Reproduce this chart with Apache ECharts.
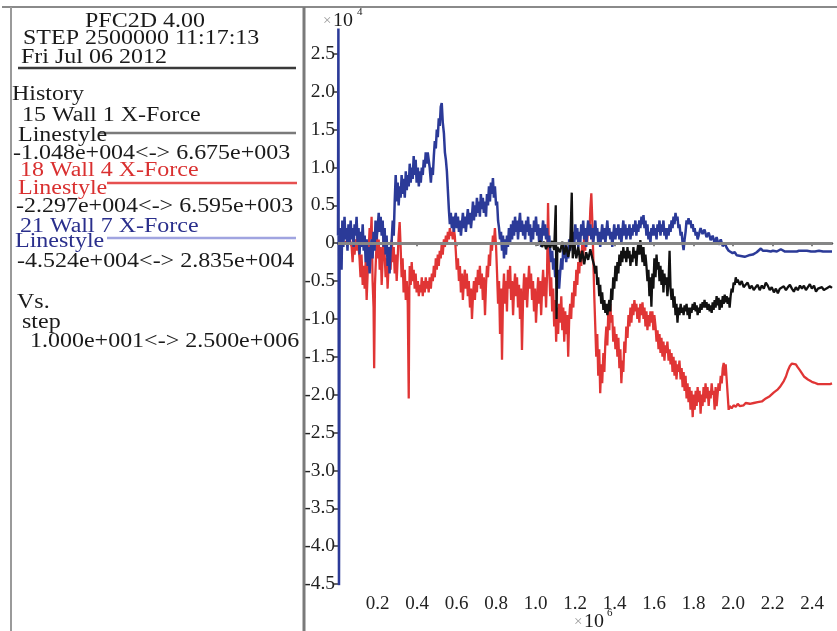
<!DOCTYPE html>
<html><head><meta charset="utf-8">
<script src="https://cdn.jsdelivr.net/npm/echarts@6/dist/echarts.min.js"></script>
<style>html,body{margin:0;padding:0;background:#fff}#c{width:837px;height:631px}</style>
</head><body><div id="c"></div><script>
// step in units of 10^6, force in units of 10^4
const wall1 = [[0.000,0.00],[1.000,0.00],[1.013,-0.02],[1.023,0.03],[1.033,-0.05],[1.043,0.02],[1.053,-0.08],[1.063,0.00],[1.074,-0.06],[1.084,0.03],[1.094,-0.09],[1.102,0.50],[1.106,-1.00],[1.110,-0.05],[1.124,-0.12],[1.135,0.02],[1.145,-0.15],[1.155,-0.03],[1.165,-0.18],[1.175,-0.05],[1.183,0.6675],[1.188,-0.20],[1.196,0.00],[1.206,-0.20],[1.216,-0.05],[1.226,-0.25],[1.236,-0.10],[1.246,-0.28],[1.256,-0.12],[1.266,-0.22],[1.277,-0.08],[1.287,-0.20],[1.297,-0.30],
[1.302,-0.40],[1.307,-0.30],[1.312,-0.55],[1.317,-0.45],[1.322,-0.70],[1.327,-0.55],[1.332,-0.80],[1.337,-0.65],[1.343,-0.88],[1.348,-0.75],[1.353,-0.92],[1.358,-0.80],[1.363,-0.95],[1.368,-0.85],[1.373,-0.75],[1.378,-0.90],[1.383,-0.60],[1.388,-0.75],[1.393,-0.45],[1.398,-0.60],[1.404,-0.30],[1.409,-0.50],[1.414,-0.25],[1.419,-0.40],[1.424,-0.15],[1.429,-0.30],[1.434,-0.10],[1.439,-0.25],[1.444,-0.05],[1.449,-0.20],[1.454,-0.10],[1.459,-0.25],[1.465,-0.05],[1.470,-0.20],[1.475,-0.10],[1.480,-0.30],[1.485,-0.15],[1.490,-0.25],[1.495,-0.05],[1.500,-0.20],[1.505,-0.10],[1.510,-0.30],[1.515,-0.10],[1.520,0.00],[1.525,-0.15],[1.530,0.04],[1.536,-0.10],[1.541,-0.25],[1.546,-0.05],[1.551,-0.30],[1.556,-0.15],[1.561,-0.30],[1.566,-0.50],[1.571,-0.35],[1.576,-0.70],[1.581,-0.45],[1.586,-0.84],[1.591,-0.40],[1.596,-0.60],[1.601,-0.20],[1.607,-0.45],[1.612,-0.15],[1.617,-0.35],[1.622,-0.25],[1.627,-0.50],[1.632,-0.30],[1.637,-0.55],[1.642,-0.35],[1.647,-0.65],[1.652,-0.40],[1.657,-0.55],[1.662,-0.45],[1.667,-0.70],[1.673,-0.50],[1.678,-0.10],[1.683,-0.60],[1.688,-0.75],[1.693,-0.60],[1.698,-0.85],[1.703,-0.70],[1.708,-0.95],[1.713,-0.80],[1.718,-1.048],[1.723,-0.85],[1.728,-0.95],[1.734,-0.80],[1.739,-0.92],[1.744,-0.85],[1.749,-0.95],[1.754,-0.82],[1.759,-0.90],[1.764,-0.80],[1.769,-0.95],[1.774,-0.85],[1.779,-1.00],[1.784,-0.85],[1.789,-0.92],[1.795,-0.80],[1.800,-0.88],[1.805,-0.78],[1.810,-0.90],[1.815,-0.82],[1.820,-0.95],[1.825,-0.85],[1.830,-0.92],[1.835,-0.80],[1.840,-0.88],[1.845,-0.78],[1.850,-0.85],[1.855,-0.75],[1.860,-0.85],[1.865,-0.78],[1.870,-0.88],[1.876,-0.80],[1.881,-0.90],[1.886,-0.82],[1.891,-0.92],[1.896,-0.78],[1.901,-0.88],[1.906,-0.75],[1.911,-0.85],[1.916,-0.70],[1.921,-0.82],[1.926,-0.72],[1.931,-0.88],[1.937,-0.75],[1.942,-0.85],[1.947,-0.70],[1.952,-0.80],[1.957,-0.68],[1.962,-0.78],[1.967,-0.70],[1.972,-0.80],[1.977,-0.72],[1.982,-0.85],[1.987,-0.70],[1.992,-0.60],[1.997,-0.65],[2.002,-0.52],[2.008,-0.55],[2.013,-0.45],[2.018,-0.52],[2.023,-0.48],[2.033,-0.55],[2.043,-0.50],[2.053,-0.58],[2.063,-0.55],[2.073,-0.52],[2.084,-0.60],[2.094,-0.56],[2.104,-0.62],[2.114,-0.58],[2.124,-0.55],[2.134,-0.62],[2.145,-0.56],[2.155,-0.60],[2.165,-0.52],[2.175,-0.56],[2.185,-0.62],[2.195,-0.58],[2.206,-0.65],[2.216,-0.60],[2.226,-0.66],[2.236,-0.60],[2.246,-0.62],[2.256,-0.57],[2.267,-0.62],[2.277,-0.58],[2.287,-0.55],[2.297,-0.60],[2.307,-0.64],[2.317,-0.58],[2.327,-0.62],[2.338,-0.56],[2.348,-0.60],[2.358,-0.56],[2.368,-0.62],[2.378,-0.58],[2.388,-0.54],[2.398,-0.60],[2.409,-0.56],[2.419,-0.64],[2.429,-0.60],[2.439,-0.62],[2.449,-0.58],[2.459,-0.62],[2.470,-0.60],[2.480,-0.58],[2.490,-0.57],[2.500,-0.59]];

const wall4 = [[0.000,0.00],[0.030,0.00],[0.060,0.05],[0.069,-0.05],[0.074,-0.25],[0.079,0.00],[0.084,-0.15],[0.089,0.05],[0.094,-0.10],[0.099,0.10],[0.104,-0.05],[0.109,-0.20],[0.114,-0.45],[0.119,-0.15],[0.125,-0.55],[0.130,-0.30],[0.135,-0.60],[0.140,-0.25],[0.145,-0.75],[0.150,-0.40],[0.155,-0.10],[0.160,0.20],[0.165,0.05],[0.170,0.35],[0.175,-0.50],[0.180,-0.85],[0.183,-1.65],[0.187,-0.55],[0.192,-0.20],[0.197,0.10],[0.201,-0.20],[0.206,0.05],
[0.211,-0.35],[0.216,-0.05],[0.221,-0.55],[0.226,-0.20],[0.231,0.10],[0.236,-0.15],[0.241,-0.45],[0.246,-0.20],[0.251,-0.60],[0.256,-0.30],[0.261,-0.05],[0.266,-0.35],[0.272,0.05],[0.277,-0.25],[0.282,-0.05],[0.287,-0.40],[0.292,-0.15],[0.297,-0.50],[0.302,-0.20],[0.307,0.10],[0.312,0.28],[0.317,-0.05],[0.322,-0.45],[0.327,-0.20],[0.332,-0.65],[0.338,-0.35],[0.343,-0.75],[0.348,-0.50],[0.353,-0.80],[0.358,-2.05],[0.361,-0.60],[0.363,-0.30],
[0.368,-0.55],[0.373,-0.25],[0.378,-0.50],[0.383,-0.35],[0.388,-0.60],[0.393,-0.40],[0.398,-0.65],[0.404,-0.50],[0.409,-0.70],[0.414,-0.55],[0.419,-0.65],[0.424,-0.45],[0.429,-0.70],[0.434,-0.50],[0.439,-0.65],[0.444,-0.45],[0.449,-0.60],[0.454,-0.50],[0.459,-0.65],[0.464,-0.45],[0.470,-0.60],[0.475,-0.40],[0.480,-0.50],[0.485,-0.30],[0.490,-0.45],[0.495,-0.20],[0.500,-0.35],[0.505,-0.15],[0.510,-0.30],[0.515,-0.10],[0.520,-0.20],[0.525,0.00],[0.530,-0.15],[0.536,0.05],[0.541,-0.05],[0.546,0.10],[0.551,0.00],[0.556,0.15],[0.561,0.05],[0.566,0.20],[0.571,0.10],[0.576,0.15],[0.581,0.05],[0.586,0.20],[0.591,0.10],[0.596,-0.10],[0.601,-0.35],[0.607,-0.20],[0.612,-0.50],[0.617,-0.30],[0.622,-0.65],[0.627,-0.40],[0.632,-0.75],[0.637,-0.50],[0.642,-0.35],[0.647,-0.60],[0.652,-0.40],[0.657,-0.70],[0.662,-0.50],[0.668,-0.85],[0.673,-0.60],[0.678,-1.00],[0.683,-0.70],[0.688,-0.50],[0.693,-0.75],[0.698,-0.45],[0.703,-0.65],[0.708,-0.35],[0.713,-0.55],[0.718,-0.30],[0.723,-0.60],[0.728,-0.40],[0.733,-0.75],[0.738,-0.45],[0.744,-0.95],[0.749,-0.55],[0.754,-0.30],[0.759,-0.45],[0.764,-0.15],[0.769,-0.30],[0.774,0.00],[0.779,-0.10],[0.784,0.10],[0.789,0.00],[0.794,0.20],[0.800,-0.05],[0.805,-0.40],[0.810,-0.80],[0.815,-0.50],[0.820,-1.20],[0.825,-0.60],[0.830,-1.54],[0.835,-0.70],[0.840,-0.40],[0.845,-0.80],[0.850,-0.50],[0.855,-0.90],[0.860,-0.35],[0.865,-0.60],[0.871,-0.30],[0.876,-0.75],[0.881,-0.50],[0.886,-0.95],[0.891,-0.60],[0.896,-0.40],[0.901,-0.70],[0.906,-0.45],[0.911,-0.85],[0.916,-0.55],[0.921,-1.00],[0.926,-0.60],[0.931,-1.41],[0.937,-0.70],[0.942,-0.40],[0.947,-0.75],[0.952,-0.45],[0.957,-0.85],[0.962,-0.55],[0.967,-0.30],[0.972,-0.60],[0.977,-0.40],[0.982,-0.75],[0.987,-0.50],[0.992,-0.90],[0.997,-0.60],[1.002,-1.05],[1.008,-0.70],[1.013,-0.45],[1.018,-0.80],[1.023,-0.50],[1.028,-0.95],[1.033,-0.60],[1.038,-0.35],[1.043,-0.70],[1.048,-0.45],[1.053,-0.85],[1.058,-0.40],[1.063,0.53],[1.069,-0.35],[1.074,-0.70],[1.079,-0.45],[1.084,-0.90],[1.089,-0.60],[1.094,-1.10],[1.099,-0.75],[1.104,-1.30],[1.109,-0.85],[1.114,-1.20],[1.119,-0.80],[1.124,-1.05],[1.130,-0.70],[1.135,-1.15],[1.140,-0.85],[1.145,-1.30],[1.150,-0.90],[1.155,-1.20],[1.160,-0.95],[1.165,-1.50],[1.170,-1.00],[1.175,-0.80],[1.180,-1.00],[1.185,-0.65],[1.191,-0.85],[1.196,-0.50],[1.201,-0.70],[1.206,-0.35],[1.211,-0.55],[1.216,-0.25],[1.221,-0.40],[1.226,-0.10],[1.231,-0.30],[1.236,0.00],[1.241,-0.20],[1.246,0.10],[1.251,-0.10],[1.256,0.15],[1.261,0.00],[1.266,0.25],[1.272,0.10],[1.277,0.45],
[1.282,0.6595],[1.287,0.30],[1.292,-0.20],[1.297,-0.70],[1.302,-1.10],[1.307,-1.50],[1.312,-1.20],[1.317,-1.75],[1.322,-1.40],[1.327,-1.98],[1.332,-1.60],[1.337,-1.85],[1.343,-1.45],[1.348,-1.70],[1.353,-1.30],[1.358,-1.10],[1.363,-1.35],[1.368,-0.90],[1.373,-1.15],[1.378,-0.80],[1.383,-1.05],[1.388,-0.95],[1.393,-1.30],[1.398,-1.10],[1.404,-1.40],[1.409,-1.20],[1.414,-1.50],[1.419,-1.25],[1.424,-1.65],[1.429,-1.40],[1.434,-1.85],[1.439,-1.55],[1.444,-1.70],[1.449,-1.30],[1.454,-1.45],[1.459,-1.10],[1.465,-1.25],[1.470,-0.95],[1.475,-1.10],[1.480,-0.85],[1.485,-1.05],[1.490,-0.80],[1.495,-0.95],[1.500,-0.75],[1.505,-0.90],[1.510,-0.80],[1.515,-1.00],[1.520,-0.85],[1.525,-1.05],[1.530,-0.80],[1.536,-0.95],[1.541,-0.78],[1.546,-1.00],[1.551,-0.85],[1.556,-1.10],[1.561,-0.90],[1.566,-1.15],[1.571,-0.95],[1.576,-1.10],[1.581,-0.90],[1.586,-1.05],[1.591,-0.90],[1.596,-1.15],[1.601,-0.95],[1.607,-1.10],[1.612,-1.30],[1.617,-1.15],[1.622,-1.40],[1.627,-1.20],[1.632,-1.45],[1.637,-1.25],[1.642,-1.50],[1.647,-1.30],[1.652,-1.55],[1.657,-1.35],[1.662,-1.45],[1.667,-1.30],[1.673,-1.55],[1.678,-1.40],[1.683,-1.60],[1.688,-1.45],[1.693,-1.70],[1.698,-1.50],[1.703,-1.75],[1.708,-1.55],[1.713,-1.80],[1.718,-1.60],[1.723,-1.70],[1.728,-1.55],[1.734,-1.80],[1.739,-1.65],[1.744,-1.90],[1.749,-1.70],[1.754,-1.95],[1.759,-1.75],[1.764,-2.05],[1.769,-1.85],[1.774,-2.10],[1.779,-1.90],[1.784,-2.20],[1.789,-1.95],[1.795,-2.297],[1.800,-2.00],[1.805,-2.20],[1.810,-1.95],[1.815,-2.15],[1.820,-1.90],[1.825,-2.10],[1.830,-1.95],[1.835,-2.25],[1.840,-2.00],[1.845,-2.15],[1.850,-1.90],[1.855,-2.10],[1.860,-1.85],[1.865,-2.05],[1.870,-1.90],[1.876,-2.15],[1.881,-1.95],[1.886,-2.05],[1.891,-1.85],[1.896,-2.00],
[1.901,-1.95],[1.906,-2.20],[1.911,-1.90],[1.916,-2.15],[1.921,-2.00],[1.926,-1.85],[1.931,-1.95],[1.937,-1.75],[1.942,-1.85],[1.947,-1.65],[1.952,-1.58],[1.957,-1.75],[1.962,-1.60],[1.967,-1.80],[1.972,-2.00],[1.977,-2.20],[1.982,-2.15],[1.992,-2.18],[2.002,-2.14],[2.013,-2.16],[2.023,-2.12],[2.033,-2.15],[2.043,-2.13],[2.053,-2.14],[2.063,-2.11],[2.073,-2.13],[2.084,-2.12],[2.094,-2.10],[2.104,-2.11],[2.114,-2.09],[2.124,-2.10],[2.134,-2.08],[2.145,-2.09],[2.155,-2.07],[2.165,-2.05],[2.175,-2.04],[2.185,-2.02],[2.195,-2.00],[2.206,-1.97],[2.216,-1.95],[2.226,-1.93],[2.236,-1.90],[2.246,-1.86],[2.256,-1.82],[2.267,-1.76],[2.277,-1.68],[2.287,-1.62],[2.297,-1.59],[2.307,-1.58],[2.317,-1.60],[2.327,-1.64],[2.338,-1.68],[2.348,-1.72],[2.358,-1.76],[2.368,-1.78],[2.378,-1.80],[2.388,-1.81],[2.398,-1.83],[2.409,-1.84],[2.419,-1.85],[2.429,-1.86],[2.439,-1.87],[2.449,-1.86],[2.459,-1.87],[2.470,-1.86],[2.480,-1.85],[2.490,-1.86],[2.500,-1.85]];

const wall7 = [[0.000,0.10],[0.002,2.835],[0.005,-4.524],[0.008,-0.30],[0.012,0.20],[0.018,-0.35],[0.022,0.30],[0.027,-0.05],[0.033,0.35],[0.038,0.05],[0.043,0.20],[0.048,-0.10],[0.053,0.25],[0.058,0.00],[0.064,0.30],[0.069,0.05],[0.074,0.20],[0.079,-0.05],[0.084,0.25],[0.089,0.10],[0.094,0.35],[0.099,0.00],[0.104,0.20],[0.109,-0.15],[0.114,0.15],[0.119,-0.05],[0.125,0.25],[0.130,-0.10],[0.135,0.10],[0.140,-0.25],[0.145,0.05],[0.150,-0.30],[0.155,-0.05],[0.160,-0.40],[0.165,-0.10],[0.170,0.05],[0.175,-0.20],[0.180,0.15],[0.185,-0.10],[0.190,0.30],[0.195,0.05],[0.201,0.20],[0.206,0.40],[0.211,0.15],[0.216,0.35],[0.221,0.10],[0.226,0.30],[0.231,-0.05],[0.236,0.20],[0.241,-0.15],[0.246,0.10],[0.251,-0.30],[0.256,-0.05],[0.261,-0.40],[0.266,-0.10],[0.272,0.05],[0.277,0.30],[0.282,0.10],
[0.287,0.55],[0.292,0.90],[0.297,0.55],[0.302,0.80],[0.307,0.50],[0.312,0.75],[0.317,0.60],[0.322,0.90],[0.327,0.65],[0.332,0.85],[0.338,0.60],[0.343,0.95],[0.348,0.70],[0.353,0.90],[0.358,0.75],[0.363,1.05],[0.368,0.80],[0.373,1.00],[0.378,0.85],[0.383,1.15],[0.388,0.90],[0.393,1.10],[0.398,0.80],[0.404,1.00],[0.409,0.75],[0.414,0.95],[0.419,0.80],[0.424,1.00],[0.429,0.90],[0.434,1.10],[0.439,1.00],[0.444,1.20],[0.449,1.05],[0.454,1.20],[0.459,1.10],[0.464,1.00],[0.470,0.80],[0.475,1.00],[0.480,0.90],[0.485,1.15],[0.490,1.35],[0.495,1.25],[0.500,1.50],[0.505,1.40],[0.510,1.65],[0.515,1.55],[0.520,1.80],[0.525,1.85],[0.530,1.60],[0.536,1.45],[0.541,1.20],[0.546,1.10],[0.551,0.95],[0.556,0.70],[0.561,0.45],
[0.566,0.25],[0.571,0.40],[0.576,0.20],[0.581,0.35],[0.586,0.15],[0.591,0.30],[0.596,0.40],[0.601,0.20],[0.607,0.35],[0.612,0.15],[0.617,0.30],[0.622,0.10],[0.627,0.25],[0.632,0.40],[0.637,0.20],[0.642,0.35],[0.647,0.15],[0.652,0.30],[0.657,0.45],[0.662,0.25],[0.668,0.40],[0.673,0.20],[0.678,0.35],[0.683,0.55],[0.688,0.30],[0.693,0.50],[0.698,0.35],[0.703,0.60],[0.708,0.40],[0.713,0.55],[0.718,0.35],[0.723,0.65],[0.728,0.45],[0.733,0.60],[0.738,0.40],[0.744,0.55],[0.749,0.35],[0.754,0.65],[0.759,0.50],[0.764,0.75],[0.769,0.55],[0.774,0.80],[0.779,0.65],[0.784,0.86],[0.789,0.60],[0.794,0.75],[0.800,0.50],[0.805,0.55],[0.810,0.30],[0.815,0.20],[0.820,0.05],[0.825,0.15],[0.830,-0.10],[0.835,0.10],[0.840,-0.20],[0.845,0.05],[0.850,-0.15],[0.855,0.10],[0.860,-0.05],[0.865,0.20],[0.871,0.00],[0.876,0.25],[0.881,0.05],[0.886,0.30],[0.891,0.10],[0.896,0.35],[0.901,0.15],[0.906,0.30],[0.911,0.05],[0.916,0.25],[0.921,0.40],[0.926,0.15],[0.931,0.30],[0.937,0.10],[0.942,0.25],[0.947,0.05],[0.952,0.30],[0.957,0.15],[0.962,0.35],[0.967,0.10],[0.972,0.25],[0.977,0.00],[0.982,0.20],[0.987,0.05],[0.992,0.30],[0.997,0.15],[1.002,0.35],[1.008,0.10],[1.013,0.25],[1.018,0.00],[1.023,0.20],[1.028,-0.05],[1.033,0.15],[1.038,0.30],[1.043,0.10],[1.048,0.25],[1.053,0.05],[1.058,0.20],[1.063,-0.05],[1.069,0.10],[1.074,-0.10],[1.079,-0.25],[1.084,-0.10],[1.089,-0.35],[1.094,-0.20],[1.099,-0.45],[1.104,-0.30],[1.109,-0.55],[1.114,-0.35],[1.119,-0.60],[1.124,-0.40],[1.130,-0.20],[1.135,-0.35],[1.140,-0.05],[1.145,-0.20],[1.150,0.00],[1.155,-0.25],[1.160,-0.05],[1.165,-0.20],[1.170,0.05],[1.175,-0.10],[1.180,0.10],[1.185,-0.05],[1.191,0.15],[1.196,0.00],[1.201,0.25],[1.206,0.05],[1.211,0.20],[1.216,-0.05],[1.221,0.15],[1.226,0.00],[1.231,0.25],[1.236,0.10],[1.241,0.30],[1.246,0.05],[1.251,0.20],[1.256,-0.05],[1.261,0.15],[1.266,0.30],[1.272,0.10],[1.277,0.25],[1.282,0.05],[1.287,0.20],[1.292,0.00],[1.297,0.15],[1.302,0.30],[1.307,0.10],[1.312,0.20],[1.317,0.00],[1.322,0.15],[1.327,-0.05],[1.332,0.10],[1.337,0.25],[1.343,0.05],[1.348,0.20],[1.353,0.00],[1.358,0.15],[1.363,0.30],[1.368,0.10],[1.373,0.20],[1.378,0.05],[1.383,0.15],[1.388,-0.05],[1.393,0.10],[1.398,0.25],[1.404,0.05],[1.409,0.20],[1.414,0.10],[1.419,0.25],[1.424,0.05],[1.429,0.20],[1.434,0.00],[1.439,0.15],[1.444,0.30],[1.449,0.10],[1.454,0.25],[1.459,0.05],[1.465,0.20],[1.470,0.10],[1.475,0.25],[1.480,0.05],[1.485,0.20],[1.490,0.10],[1.495,0.25],[1.500,0.15],[1.505,0.30],[1.510,0.10],[1.515,0.25],[1.520,0.15],[1.525,0.30],[1.530,0.20],[1.536,0.35],[1.541,0.25],[1.546,0.37],[1.551,0.20],[1.556,0.30],[1.561,0.10],[1.566,0.25],[1.571,0.05],[1.576,0.15],[1.581,0.00],[1.586,0.20],[1.591,0.10],[1.596,0.25],[1.601,0.10],[1.607,0.20],[1.612,0.05],[1.617,0.25],[1.622,0.15],[1.627,0.30],[1.632,0.10],[1.637,0.25],[1.642,0.15],[1.647,0.30],[1.652,0.10],[1.657,0.20],[1.662,0.05],[1.667,0.20],[1.673,0.10],[1.678,0.25],[1.683,0.15],[1.688,0.30],[1.693,0.20],[1.698,0.35],[1.703,0.25],[1.708,0.40],[1.713,0.30],[1.718,0.35],[1.723,0.20],[1.728,0.25],[1.734,0.10],[1.739,0.15],[1.744,0.00],[1.749,-0.09],[1.754,0.05],[1.759,0.15],[1.764,0.30],[1.769,0.25],[1.774,0.33],[1.779,0.25],[1.784,0.30],[1.789,0.20],[1.795,0.25],[1.800,0.15],[1.805,0.20],[1.810,0.10],[1.815,0.15],[1.820,0.05],[1.825,0.10],
[1.835,0.20],[1.845,0.12],[1.855,0.18],[1.865,0.08],[1.876,0.14],[1.886,0.04],[1.896,0.10],[1.906,0.00],[1.916,0.08],[1.926,-0.02],[1.937,0.05],[1.947,-0.04],[1.957,0.00],[1.967,-0.06],[1.977,-0.10],[1.987,-0.08],[1.997,-0.13],[2.008,-0.12],[2.018,-0.16],[2.028,-0.14],[2.038,-0.17],[2.048,-0.15],[2.058,-0.18],[2.068,-0.19],[2.079,-0.16],[2.089,-0.18],[2.099,-0.15],[2.109,-0.16],[2.119,-0.12],[2.129,-0.10],[2.140,-0.07],[2.150,-0.10],[2.160,-0.08],[2.170,-0.10],[2.180,-0.09],[2.190,-0.11],[2.201,-0.10],[2.211,-0.09],[2.221,-0.11],[2.231,-0.10],[2.241,-0.08],[2.251,-0.10],[2.262,-0.11],[2.272,-0.10],[2.282,-0.11],[2.292,-0.10],[2.302,-0.11],[2.312,-0.10],[2.322,-0.11],[2.333,-0.10],[2.343,-0.11],[2.353,-0.10],[2.363,-0.11],[2.373,-0.10],[2.383,-0.11],[2.394,-0.11],[2.404,-0.10],[2.414,-0.11],[2.424,-0.11],[2.434,-0.10],[2.444,-0.11],[2.455,-0.11],[2.465,-0.10],[2.475,-0.11],[2.485,-0.11],[2.500,-0.11]];

const headerLines = ['PFC2D 4.00', 'STEP 2500000 11:17:13', 'Fri Jul 06 2012'];
const historyTitle = 'History';
const seriesNames = ['15 Wall 1 X-Force', '18 Wall 4 X-Force', '21 Wall 7 X-Force'];
const seriesRanges = ['-1.048e+004<-> 6.675e+003', '-2.297e+004<-> 6.595e+003', '-4.524e+004<-> 2.835e+004'];
const vsLines = ['Vs.', 'step', '1.000e+001<-> 2.500e+006'];

const SERIF = '"Liberation Serif","Times New Roman",serif';
const SX = 1.17;
function txt(str, x, y, color, align, size, sx) {
  return { type: 'text', x: x, y: y, scaleX: sx || SX, z: 100,
    style: { text: str, fill: color || '#1a1a1a', font: (size || 20.5) + 'px ' + SERIF,
      textAlign: align || 'left', textVerticalAlign: 'middle' } };
}
function ln(x1, y1, x2, y2, color, w) {
  return { type: 'line', z: 90, shape: { x1: x1, y1: y1, x2: x2, y2: y2 },
    style: { stroke: color, lineWidth: w } };
}
const black = '#1a1a1a', red = '#d93030', navy = '#2a2f8c';
const graphics = [
  ln(2, 7, 837, 7, '#8a8a8a', 2),
  ln(11, 7, 11, 631, '#9a9a9a', 2),
  ln(304, 7, 304, 631, '#7a7a7a', 3),
  txt(headerLines[0], 145, 22, black, 'center'),
  txt(headerLines[1], 23, 38.5, black),
  txt(headerLines[2], 21, 57.5, black),
  ln(18, 68, 296, 68, '#3a3a3a', 2.5),
  txt(historyTitle, 12, 95, black),
  txt(seriesNames[0], 22, 115.5, black),
  txt('Linestyle', 18, 135.5, black),
  ln(100, 133, 296, 133, '#7a7a7a', 2.5),
  txt(seriesRanges[0], 13, 154, black),
  txt(seriesNames[1], 20, 171, red),
  txt('Linestyle', 18, 189, red),
  ln(107, 183, 297, 183, '#e65050', 2.5),
  txt(seriesRanges[1], 16, 207, black),
  txt(seriesNames[2], 20, 227, navy),
  txt('Linestyle', 15, 242, navy),
  ln(107, 238, 296, 238, '#a0a4e0', 2.5),
  txt(seriesRanges[2], 17, 262, black),
  txt(vsLines[0], 17, 303, black),
  txt(vsLines[1], 22, 323, black),
  txt(vsLines[2], 30, 342, black),
  txt('\u00d7', 323, 21, '#999', 'left', 15, 1),
  txt('10', 333, 21, black, 'left', 19, 1.05),
  txt('4', 357, 12, black, 'left', 11, 1),
  txt('\u00d7', 574, 622, '#999', 'left', 15, 1),
  txt('10', 584, 622, black, 'left', 19, 1.05),
  txt('6', 607, 613, black, 'left', 11, 1)
];

const fmt = v => (Math.abs(v) < 1e-9 ? '0' : v.toFixed(1));
const chart = echarts.init(document.getElementById('c'), null, { renderer: 'canvas' });
chart.setOption({
  animation: false,
  backgroundColor: '#ffffff',
  grid: { left: 338, right: 5, top: 16, bottom: 47 },
  xAxis: {
    type: 'value', min: 0, max: 2.5, interval: 0.2,
    axisLine: { show: true, lineStyle: { color: '#555', width: 2.5 } },
    axisTick: { show: true, length: 3, lineStyle: { color: '#555', width: 1.5 } },
    axisLabel: { formatter: fmt, fontFamily: SERIF, fontSize: 19, color: '#222', margin: 11,
      showMinLabel: false, showMaxLabel: false },
    splitLine: { show: false }
  },
  yAxis: {
    type: 'value', min: -4.5, max: 3.0, interval: 0.5,
    axisLine: { show: false },
    axisTick: { show: true, length: 4, lineStyle: { color: '#333', width: 1.5 } },
    axisLabel: { formatter: fmt, fontFamily: SERIF, fontSize: 19.5, color: '#222', margin: 3,
      showMaxLabel: false },
    splitLine: { show: false }
  },
  series: [
    { name: seriesNames[1], type: 'line', data: wall4, symbol: 'none', showSymbol: false,
      lineStyle: { color: '#e03535', width: 2.3 }, z: 2,
      markLine: { silent: true, symbol: 'none', label: { show: false }, animation: false,
        lineStyle: { color: '#868686', width: 3, type: 'solid' }, data: [{ yAxis: 0 }] } },
    { name: seriesNames[2], type: 'line', data: wall7, symbol: 'none', showSymbol: false,
      lineStyle: { color: '#2b3a98', width: 2.5 }, z: 3 },
    { name: seriesNames[0], type: 'line', data: wall1, symbol: 'none', showSymbol: false,
      lineStyle: { color: '#111111', width: 2.3 }, z: 4 }
  ],
  graphic: graphics
});
</script></body></html>
